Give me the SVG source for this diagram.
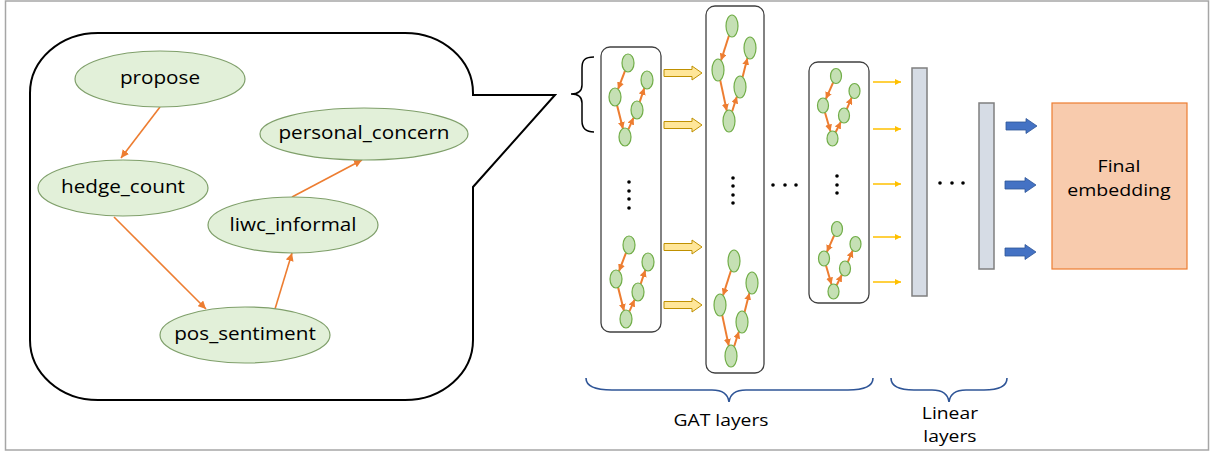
<svg xmlns="http://www.w3.org/2000/svg" xmlns:xlink="http://www.w3.org/1999/xlink" width="1212" height="453" viewBox="0 0 1212 453">
<defs>
<style>
.lbl{font-family:"Open Sans","Noto Sans",sans-serif;font-size:18px;fill:#000;text-anchor:middle;transform-box:fill-box;transform-origin:center;transform:scaleX(1.15)}
.sm{font-size:16.8px}
.node{fill:#E2F0D9;stroke:#7F9F6A;stroke-width:1.2}
.edge{stroke:#ED7D31;stroke-width:1.6;fill:none;marker-end:url(#ah)}
.medge{stroke:#ED7D31;stroke-width:2;fill:none;marker-end:url(#mah)}
.mn{fill:#C5E0B4;stroke:#70AD47;stroke-width:1.2}
.box{fill:#fff;stroke:#404040;stroke-width:1.3}
.dot{fill:#000}
.yarrow{fill:#FFE699;stroke:#BF9000;stroke-width:1}
.barrow{fill:#4472C4;stroke:#2F5597;stroke-width:0.8}
.thin{stroke:#FFC000;stroke-width:1.5;fill:none;marker-end:url(#yah)}
.brace{stroke:#2F5597;stroke-width:1.6;fill:none}
.lin{fill:#D6DCE5;stroke:#7F7F7F;stroke-width:1.5}
</style>
<marker id="ah" viewBox="0 0 8 8" refX="8" refY="4" markerWidth="8" markerHeight="8" markerUnits="userSpaceOnUse" orient="auto"><path d="M0,0 L8,4 L0,8 z" fill="#ED7D31"/></marker>
<marker id="mah" viewBox="0 0 7 7" refX="7" refY="3.5" markerWidth="7" markerHeight="7" markerUnits="userSpaceOnUse" orient="auto"><path d="M0,0 L7,3.5 L0,7 z" fill="#ED7D31"/></marker>
<marker id="yah" viewBox="0 0 6 6" refX="6" refY="3" markerWidth="6" markerHeight="6" markerUnits="userSpaceOnUse" orient="auto"><path d="M0,0 L6,3 L0,6 z" fill="#FFC000"/></marker>
<g id="g1">
<line class="medge" x1="-3" y1="7.8" x2="-10" y2="26.2"/>
<line class="medge" x1="-11" y1="42.1" x2="-5" y2="65.9"/>
<line class="medge" x1="0.4" y1="66.4" x2="5.6" y2="54.6"/>
<line class="medge" x1="11.6" y1="39.1" x2="16.4" y2="24.9"/>
<ellipse class="mn" cx="0" cy="0" rx="6" ry="9"/>
<ellipse class="mn" cx="-13" cy="34" rx="6" ry="9"/>
<ellipse class="mn" cx="-3" cy="74" rx="6" ry="9"/>
<ellipse class="mn" cx="9" cy="47" rx="6" ry="9"/>
<ellipse class="mn" cx="19" cy="17" rx="6" ry="9"/>
</g>
<g id="g2">
<line class="medge" x1="-3" y1="9.5" x2="-11" y2="34.5"/>
<line class="medge" x1="-11.8" y1="54.1" x2="-5.2" y2="84.9"/>
<line class="medge" x1="0.1" y1="85.5" x2="4.9" y2="70.5"/>
<line class="medge" x1="10.6" y1="51" x2="15.4" y2="32"/>
<ellipse class="mn" cx="0" cy="0" rx="6" ry="11"/>
<ellipse class="mn" cx="-14" cy="44" rx="6" ry="11"/>
<ellipse class="mn" cx="-3" cy="95" rx="6" ry="11"/>
<ellipse class="mn" cx="8" cy="61" rx="6" ry="11"/>
<ellipse class="mn" cx="18" cy="22" rx="6" ry="11"/>
</g>
<g id="g3">
<line class="medge" x1="-2.8" y1="6.4" x2="-10.2" y2="23.1"/>
<line class="medge" x1="-11" y1="36.5" x2="-5.5" y2="55.5"/>
<line class="medge" x1="-0.4" y1="56.3" x2="4.9" y2="45.7"/>
<line class="medge" x1="10.75" y1="33.1" x2="15.75" y2="21.4"/>
<ellipse class="mn" cx="0" cy="0" rx="5.5" ry="7.5"/>
<ellipse class="mn" cx="-13" cy="29.5" rx="5.5" ry="7.5"/>
<ellipse class="mn" cx="-3.5" cy="62.5" rx="5.5" ry="7.5"/>
<ellipse class="mn" cx="8" cy="39.5" rx="5.5" ry="7.5"/>
<ellipse class="mn" cx="18.5" cy="15" rx="5.5" ry="7.5"/>
</g>
<polygon id="ya" class="yarrow" points="0,-3.5 28,-3.5 28,-7 38,0 28,7 28,3.5 0,3.5"/>
<polygon id="ba" class="barrow" points="0,-4 20,-4 20,-7.5 31,0 20,7.5 20,4 0,4"/>
</defs>

<rect x="5.5" y="1" width="1203" height="449" fill="#fff" stroke="#A6A6A6" stroke-width="1.5"/>

<g id="bubble">
<path d="M98,33 H405 A68,60 0 0 1 473,93 V95 H555 L473,187 V340 A68,60 0 0 1 405,400 H98 A68,60 0 0 1 30,340 V93 A68,60 0 0 1 98,33 Z" fill="#fff" stroke="#000" stroke-width="2"/>
</g>

<g id="connectors">
<line class="edge" x1="160" y1="107" x2="121" y2="158"/>
<line class="edge" x1="114" y1="217" x2="206" y2="309"/>
<line class="edge" x1="275" y1="309" x2="292" y2="253"/>
<line class="edge" x1="292" y1="197" x2="362" y2="160"/>
<use xlink:href="#ya" x="664" y="73"/>
<use xlink:href="#ya" x="664" y="125"/>
<use xlink:href="#ya" x="664" y="247"/>
<use xlink:href="#ya" x="664" y="305"/>
<line class="thin" x1="873" y1="82" x2="901" y2="82"/>
<line class="thin" x1="873" y1="129" x2="901" y2="129"/>
<line class="thin" x1="873" y1="184" x2="901" y2="184"/>
<line class="thin" x1="873" y1="237" x2="901" y2="237"/>
<line class="thin" x1="873" y1="282" x2="901" y2="282"/>
<use xlink:href="#ba" x="1006" y="126"/>
<use xlink:href="#ba" x="1005" y="185"/>
<use xlink:href="#ba" x="1005" y="252"/>
</g>

<g id="node-propose"><ellipse class="node" cx="160" cy="79" rx="85" ry="28"/><text class="lbl" x="160" y="84">propose</text></g>
<g id="node-hedge_count"><ellipse class="node" cx="123" cy="188" rx="85" ry="28"/><text class="lbl" x="123" y="193">hedge_count</text></g>
<g id="node-personal_concern"><ellipse class="node" cx="364" cy="134" rx="104" ry="26"/><text class="lbl" x="364" y="139">personal_concern</text></g>
<g id="node-liwc_informal"><ellipse class="node" cx="293" cy="225" rx="85" ry="28"/><text class="lbl" x="293" y="231">liwc_informal</text></g>
<g id="node-pos_sentiment"><ellipse class="node" cx="245" cy="335" rx="85" ry="28"/><text class="lbl" x="245" y="340">pos_sentiment</text></g>

<g id="left-brace"><path d="M594,57 C585,57 582,60 582,68 V85 C582,91 578,94 571,94 C578,94 582,97 582,103 V121 C582,128 585,132 594,132" fill="none" stroke="#000" stroke-width="1.5"/></g>

<g id="gat-layer-1">
<rect class="box" x="601" y="47" width="60" height="285" rx="9"/>
<use xlink:href="#g1" x="628" y="63"/>
<use xlink:href="#g1" x="629" y="245"/>
<circle class="dot" cx="629" cy="182" r="1.8"/><circle class="dot" cx="629" cy="191" r="1.8"/><circle class="dot" cx="629" cy="199" r="1.8"/><circle class="dot" cx="629" cy="208" r="1.8"/>
</g>
<g id="gat-layer-2">
<rect class="box" x="706" y="6" width="58" height="367" rx="9"/>
<use xlink:href="#g2" x="732" y="26"/>
<use xlink:href="#g2" x="734" y="261"/>
<circle class="dot" cx="733" cy="178" r="1.8"/><circle class="dot" cx="733" cy="186" r="1.8"/><circle class="dot" cx="733" cy="195" r="1.8"/><circle class="dot" cx="733" cy="203" r="1.8"/>
</g>
<g id="gat-dots">
<circle class="dot" cx="773" cy="185" r="1.8"/><circle class="dot" cx="785" cy="185" r="1.8"/><circle class="dot" cx="796" cy="185" r="1.8"/>
</g>
<g id="gat-layer-3">
<rect class="box" x="809" y="62" width="60" height="241" rx="9"/>
<use xlink:href="#g3" x="836" y="76"/>
<use xlink:href="#g3" x="837" y="229"/>
<circle class="dot" cx="837" cy="176" r="1.8"/><circle class="dot" cx="837" cy="185" r="1.8"/><circle class="dot" cx="837" cy="193" r="1.8"/>
</g>

<g id="linear-1"><rect class="lin" x="912" y="68" width="15" height="228"/></g>
<g id="linear-dots"><circle class="dot" cx="940" cy="183" r="1.8"/><circle class="dot" cx="952" cy="183" r="1.8"/><circle class="dot" cx="963" cy="183" r="1.8"/></g>
<g id="linear-2"><rect class="lin" x="979" y="103" width="15" height="166"/></g>

<g id="final-embedding">
<rect x="1052" y="103" width="135" height="166" fill="#F8CBAD" stroke="#ED7D31" stroke-width="1.2"/>
<text class="lbl" x="1119" y="172.5" style="font-size:17px">Final<tspan x="1119" dy="23.4">embedding</tspan></text>
</g>

<g id="gat-brace">
<path class="brace" d="M586,378 C586,386 596,390 612,390 H712 C722,390 728,394 729,402 C730,394 736,390 746,390 H848 C864,390 873,386 873,378"/>
<text class="lbl sm" x="721" y="426">GAT layers</text>
</g>
<g id="linear-brace">
<path class="brace" d="M891,378 C891,386 900,390 914,390 H932 C942,390 948,394 949,402 C950,394 956,390 966,390 H984 C998,390 1007,386 1007,378"/>
<text class="lbl sm" x="950" y="419.5">Linear<tspan x="950" dy="23">layers</tspan></text>
</g>
</svg>
